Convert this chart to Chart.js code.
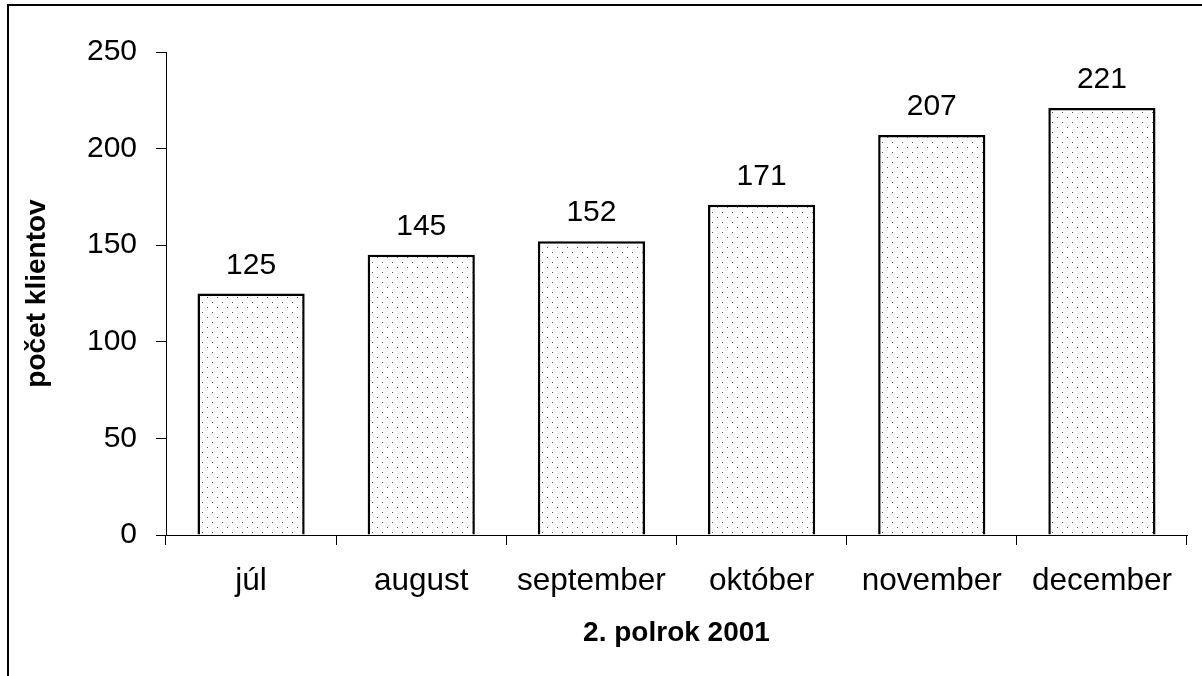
<!DOCTYPE html>
<html>
<head>
<meta charset="utf-8">
<script src="https://cdn.jsdelivr.net/npm/chart.js@4"></script>
<style>
  body { margin: 0; background: #fff; }
  #wrap { position: relative; width: 1202px; height: 676px; }
  #frame { position: absolute; left: 7px; top: 4px; right: -10px; bottom: -10px;
           border-top: 2px solid #000; border-left: 2px solid #000; }
  canvas { position: absolute; left: 0; top: 0; }
</style>
</head>
<body>
<div id="wrap">
  <div id="frame"></div>
  <canvas id="chart" width="1202" height="676"></canvas>
</div>
<script>
const months = ["júl", "august", "september", "október", "november", "december"];
const clients = [125, 145, 152, 171, 207, 221];
const yTicks = [0, 50, 100, 150, 200, 250];
const xTitle = "2. polrok 2001";
const yTitle = "počet klientov";

const FONT = "'Liberation Sans', Arial, sans-serif";

// dotted fill like the old excel pattern
function dotPattern() {
  const c = document.createElement("canvas");
  c.width = 10;
  c.height = 10;
  const g = c.getContext("2d");
  g.fillStyle = "#fff";
  g.fillRect(0, 0, 10, 10);
  g.fillStyle = "#555";
  g.fillRect(2, 2, 1, 1);
  g.fillRect(7, 7, 1, 1);
  return g.createPattern(c, "repeat");
}

const valueLabels = {
  id: "valueLabels",
  afterDatasetsDraw(chart) {
    const ctx = chart.ctx;
    const meta = chart.getDatasetMeta(0);
    ctx.save();
    ctx.font = "30px " + FONT;
    ctx.fillStyle = "#000";
    ctx.textAlign = "center";
    ctx.textBaseline = "alphabetic";
    meta.data.forEach((bar, i) => {
      ctx.fillText(String(clients[i]), bar.x, bar.y - 20);
    });
    ctx.restore();
  }
};

new Chart(document.getElementById("chart").getContext("2d"), {
  type: "bar",
  data: {
    labels: months,
    datasets: [{
      data: clients,
      backgroundColor: dotPattern(),
      borderColor: "#000",
      borderWidth: 2.5,
      barPercentage: 0.63,
      categoryPercentage: 1
    }]
  },
  options: {
    responsive: false,
    animation: false,
    layout: { padding: { top: 52, right: 15, bottom: 0, left: 0 } },
    plugins: {
      legend: { display: false },
      tooltip: { enabled: false }
    },
    scales: {
      x: {
        grid: { offset: true, drawOnChartArea: false, drawTicks: true, tickLength: 10, color: "#000" },
        border: { color: "#000", width: 1 },
        ticks: { color: "#000", font: { family: FONT, size: 31.5 }, padding: 17, maxRotation: 0 },
        title: { display: true, text: xTitle, color: "#000",
                 font: { family: FONT, size: 28, weight: "bold" }, padding: { top: 0, bottom: 26 } },
        afterFit(scale) { scale.height = 141; }
      },
      y: {
        min: 0,
        max: 250,
        afterBuildTicks(scale) { scale.ticks = yTicks.map(v => ({ value: v })); },
        grid: { drawOnChartArea: false, drawTicks: true, tickLength: 10, color: "#000" },
        border: { color: "#000", width: 1 },
        ticks: { color: "#000", font: { family: FONT, size: 30 }, padding: 19 },
        title: { display: true, text: yTitle, color: "#000",
                 font: { family: FONT, size: 28, weight: "bold" }, padding: { top: 20, bottom: 0 } },
        afterFit(scale) { scale.width = 166; }
      }
    }
  },
  plugins: [valueLabels]
});
</script>
</body>
</html>
